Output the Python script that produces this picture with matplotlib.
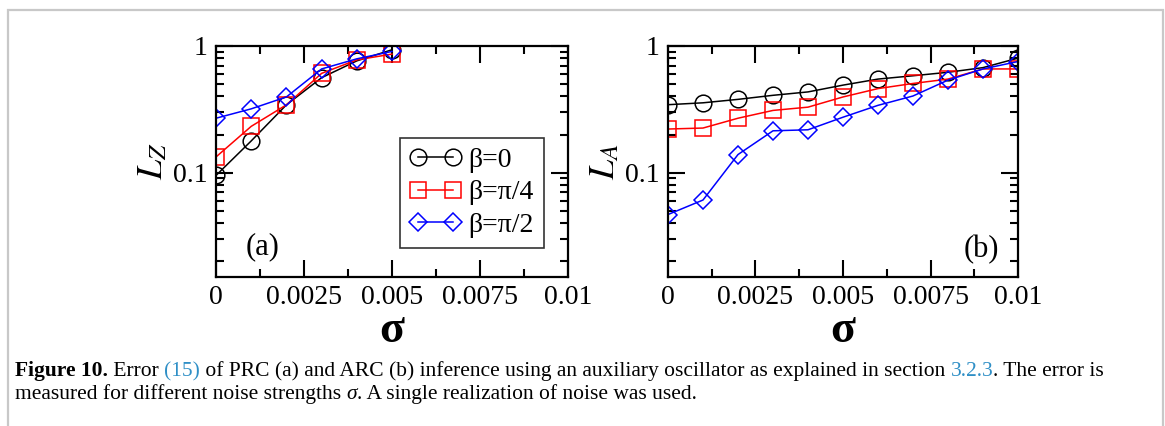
import numpy as np
import matplotlib
matplotlib.use('Agg')
import matplotlib.pyplot as plt
from matplotlib.patches import Rectangle
from matplotlib.ticker import FixedLocator, LogLocator, NullFormatter

plt.rcParams['font.family'] = ['Liberation Serif', 'DejaVu Serif']
plt.rcParams['mathtext.fontset'] = 'stix'

# noise strengths
sigma_a = [0, 0.001, 0.002, 0.003, 0.004, 0.005]
sigma_b = [0, 0.001, 0.002, 0.003, 0.004, 0.005, 0.006, 0.007, 0.008, 0.009, 0.01]

# panel (a): L_Z
lz_b0 = [0.095, 0.178, 0.343, 0.562, 0.763, 0.934]
lz_b4 = [0.133, 0.232, 0.343, 0.608, 0.777, 0.863]
lz_b2 = [0.269, 0.319, 0.396, 0.659, 0.792, 0.906]

# panel (b): L_A
la_b0 = [0.344, 0.356, 0.379, 0.408, 0.434, 0.491, 0.548, 0.582, 0.620, 0.675, 0.802]
la_b4 = [0.221, 0.225, 0.269, 0.310, 0.329, 0.396, 0.461, 0.506, 0.548, 0.659, 0.659]
la_b2 = [0.0467, 0.0608, 0.139, 0.214, 0.218, 0.274, 0.340, 0.403, 0.538, 0.659, 0.754]

labels = ['β=0', 'β=π/4', 'β=π/2']
xticks = [0, 0.0025, 0.005, 0.0075, 0.01]
xticklabels = ['0', '0.0025', '0.005', '0.0075', '0.01']

W, H = 1165, 426
fig = plt.figure(figsize=(W / 100, H / 100), dpi=100)

def px_axes(x0, x1, y0, y1):
    return fig.add_axes([x0 / W, 1 - y1 / H, (x1 - x0) / W, (y1 - y0) / H])

ax_a = px_axes(216, 568, 46, 277)
ax_b = px_axes(668, 1018, 46, 277)

def style(ax):
    ax.set_yscale('log')
    ax.set_xlim(0, 0.01)
    ax.set_ylim(0.015, 1.0)
    ax.xaxis.set_major_locator(FixedLocator(xticks))
    ax.set_xticklabels(xticklabels)
    ax.xaxis.set_minor_locator(FixedLocator([0.00125, 0.00375, 0.00625, 0.00875]))
    ax.yaxis.set_major_locator(FixedLocator([0.1, 1.0]))
    ax.set_yticklabels(['0.1', '1'])
    ax.yaxis.set_minor_locator(LogLocator(base=10, subs=np.arange(2, 10)))
    ax.yaxis.set_minor_formatter(NullFormatter())
    ax.tick_params(which='both', direction='in', top=True, right=True,
                   labelsize=20, width=1.5)
    ax.tick_params(which='major', length=12, pad=6)
    ax.tick_params(which='minor', length=6)
    for s in ax.spines.values():
        s.set_linewidth(1.6)

def draw(ax, x, ys):
    ax.plot(x, ys[0], color='black', marker='o', ms=12, mfc='none', mew=1.1,
            lw=1.1, label=labels[0])
    ax.plot(x, ys[1], color='red', marker='s', ms=11.5, mfc='none', mew=1.1,
            lw=1.1, label=labels[1])
    ax.plot(x, ys[2], color='blue', marker='D', ms=9.3, mfc='none', mew=1.1,
            lw=1.1, label=labels[2])

style(ax_a)
style(ax_b)
draw(ax_a, sigma_a, [lz_b0, lz_b4, lz_b2])
draw(ax_b, sigma_b, [la_b0, la_b4, la_b2])

for ax, lab in [(ax_a, r'$L_Z$'), (ax_b, r'$L_A$')]:
    ax.set_ylabel(lab, fontsize=26, labelpad=2)
    ax.set_xlabel('σ', fontsize=33, fontweight='bold', labelpad=0)

ax_a.text(0.131, 0.13, '(a)', transform=ax_a.transAxes, fontsize=22,
          ha='center', va='center')
ax_b.text(0.894, 0.117, '(b)', transform=ax_b.transAxes, fontsize=22,
          ha='center', va='center')

leg = ax_a.legend(loc='upper left', bbox_to_anchor=(0.523, 0.602), numpoints=2,
                  fontsize=20, frameon=True, fancybox=False, handlelength=1.86,
                  handletextpad=0.25, borderpad=0.35, labelspacing=0.25,
                  borderaxespad=0)
leg.get_frame().set_edgecolor('black')
leg.get_frame().set_linewidth(1.2)

# grey frame around figure
fig.patches.append(Rectangle((8 / W, -0.05), (1163 - 8) / W, 1.05 - 10 / H,
                             transform=fig.transFigure, fill=False,
                             edgecolor='#c8c8c8', linewidth=1.6))

# caption built piece by piece
blue = '#2f8fc6'
cap_size = 15.5
lines = [
    [('Figure 10.', 'bold', 'black', 'normal'),
     (' Error ', 'normal', 'black', 'normal'),
     ('(15)', 'normal', blue, 'normal'),
     (' of PRC (a) and ARC (b) inference using an auxiliary oscillator as explained in section ', 'normal', 'black', 'normal'),
     ('3.2.3', 'normal', blue, 'normal'),
     ('. The error is', 'normal', 'black', 'normal')],
    [('measured for different noise strengths ', 'normal', 'black', 'normal'),
     ('σ', 'normal', 'black', 'italic'),
     ('. A single realization of noise was used.', 'normal', 'black', 'normal')],
]
baselines = [376, 399]
renderer = fig.canvas.get_renderer()
for pieces, yb in zip(lines, baselines):
    x = 15
    for txt, wt, col, st in pieces:
        t = fig.text(x / W, 1 - yb / H, txt, fontsize=cap_size, fontweight=wt,
                     color=col, style=st, ha='left', va='baseline')
        bb = t.get_window_extent(renderer=renderer)
        x += bb.width

fig.savefig('out.png', dpi=100)
